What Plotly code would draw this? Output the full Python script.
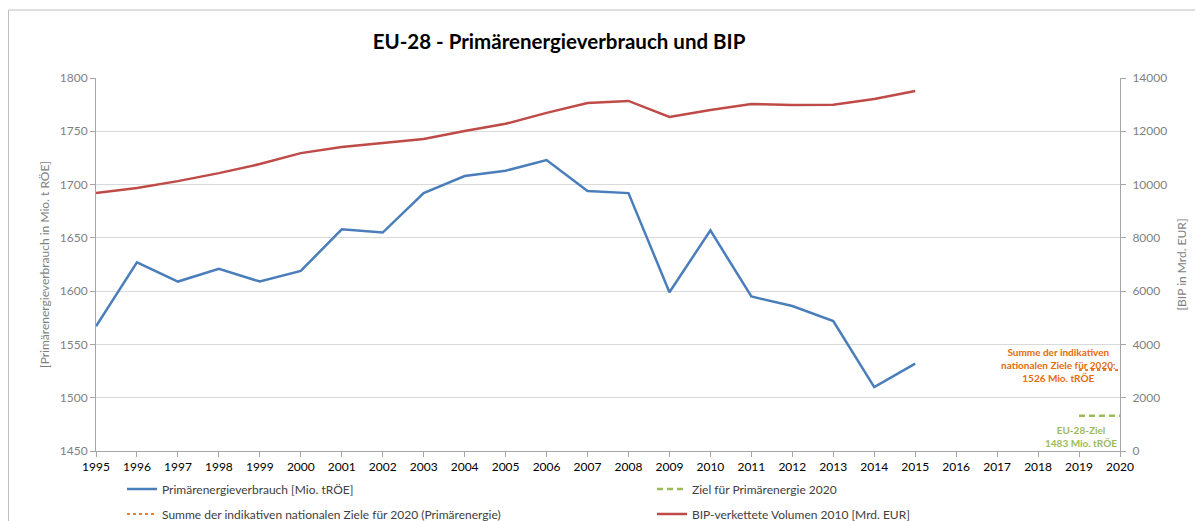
import plotly.graph_objects as go

years = list(range(1995, 2016))
primaerenergie = [1567, 1627, 1609, 1621, 1609, 1619, 1658, 1655, 1692, 1708, 1713,
                  1723, 1694, 1692, 1599, 1657, 1595, 1586, 1572, 1510, 1532]
bip = [9680, 9870, 10130, 10430, 10770, 11180, 11410, 11560, 11710, 12010, 12280,
       12690, 13060, 13140, 12540, 12800, 13020, 12990, 13000, 13210, 13510]
ziel_years = [2019, 2020]
ziel_eu = [1483, 1483]
ziel_national = [1526, 1526]

FONT = "Lato"
GRAY = "#7f7f7f"
OFF = 8  # page body margin
W, H = 1203 - OFF, 521 - OFF

fig = go.Figure()
fig.add_trace(go.Scatter(x=years, y=primaerenergie, mode="lines",
                         name="Primärenergieverbrauch [Mio. tRÖE]",
                         line=dict(color="#4a7ebb", width=2.5), legend="legend"))
fig.add_trace(go.Scatter(x=ziel_years, y=ziel_eu, mode="lines",
                         name="Ziel für Primärenergie 2020",
                         line=dict(color="#9bbb59", width=2.5, dash="6px,4px"), legend="legend2"))
fig.add_trace(go.Scatter(x=ziel_years, y=ziel_national, mode="lines",
                         name="Summe der indikativen nationalen Ziele für 2020 (Primärenergie)",
                         line=dict(color="#f07c2a", width=2, dash="dot"), legend="legend3"))
fig.add_trace(go.Scatter(x=years, y=bip, mode="lines", yaxis="y2",
                         name="BIP-verkettete Volumen 2010 [Mrd. EUR]",
                         line=dict(color="#be4b48", width=2.5), legend="legend4"))

fig.add_annotation(x=2018.5, y=1531, xref="x", yref="y",
                   text="Summe der indikativen<br>nationalen Ziele für 2020:<br>1526 Mio. tRÖE",
                   showarrow=False, font=dict(family=FONT, size=10, color="#e46c0a", weight="bold"),
                   align="center")
fig.add_annotation(x=2019.05, y=1464, xref="x", yref="y",
                   text="EU-28-Ziel<br>1483 Mio. tRÖE",
                   showarrow=False, font=dict(family=FONT, size=10, color="#9bbb59", weight="bold"),
                   align="center")

# outer chart frame (in paper coords; plot area is 1024 x 373 px)
fig.add_shape(type="rect", xref="paper", yref="paper",
              x0=(0.5 - 88) / 1024, x1=1.2, y0=-0.4, y1=1 + (70 - 2) / 373,
              line=dict(color="#bfbfbf", width=1), layer="below")


def leg(xpx, ypx):
    return dict(orientation="h", xref="container", yref="container",
                x=xpx / W, y=1 - (ypx - OFF) / H, xanchor="left", yanchor="middle",
                font=dict(family=FONT, size=12, color="#404040"),
                bgcolor="rgba(0,0,0,0)", itemwidth=30)


fig.update_layout(
    width=W, height=H,
    margin=dict(l=96 - OFF, r=83, t=78 - OFF, b=70, autoexpand=False),
    paper_bgcolor="white", plot_bgcolor="white",
    font=dict(family=FONT, size=12, color=GRAY),
    title=dict(text="<b>EU-28 - Primärenergieverbrauch und BIP</b>",
               x=551 / W, xanchor="center", y=1 - 34 / H, yanchor="middle",
               font=dict(family=FONT, size=20.5, color="#000000")),
    xaxis=dict(range=[1995, 2020], tickmode="linear", tick0=1995, dtick=1,
               showgrid=False, showline=True, linecolor="#a6a6a6", linewidth=1,
               ticks="outside", ticklen=5, tickcolor="#a6a6a6", automargin=False,
               tickfont=dict(family=FONT, size=12, color="#000000"), zeroline=False),
    yaxis=dict(range=[1450, 1800], tickmode="linear", tick0=1450, dtick=50,
               showgrid=True, gridcolor="#d9d9d9", gridwidth=1, automargin=False,
               showline=True, linecolor="#a6a6a6", ticks="outside", ticklen=5,
               tickcolor="#a6a6a6", tickfont=dict(family=FONT, size=12, color=GRAY),
               title=dict(text="[Primärenergieverbrauch in Mio. t RÖE]", standoff=7,
                          font=dict(family=FONT, size=12, color=GRAY)),
               zeroline=False),
    yaxis2=dict(range=[0, 14000], tickmode="linear", tick0=0, dtick=2000, tickformat="d",
                overlaying="y", side="right", showgrid=False, automargin=False,
                showline=True, linecolor="#a6a6a6", ticks="outside", ticklen=5,
                ticklabelstandoff=4,
                tickcolor="#a6a6a6", tickfont=dict(family=FONT, size=12, color=GRAY),
                title=dict(text="[BIP in Mrd. EUR]", standoff=11,
                           font=dict(family=FONT, size=12, color=GRAY)),
                zeroline=False),
    legend=leg(114, 489),
    legend2=leg(644, 489),
    legend3=leg(114, 514),
    legend4=leg(644, 514),
    showlegend=True,
)

fig.write_html("out.html")
